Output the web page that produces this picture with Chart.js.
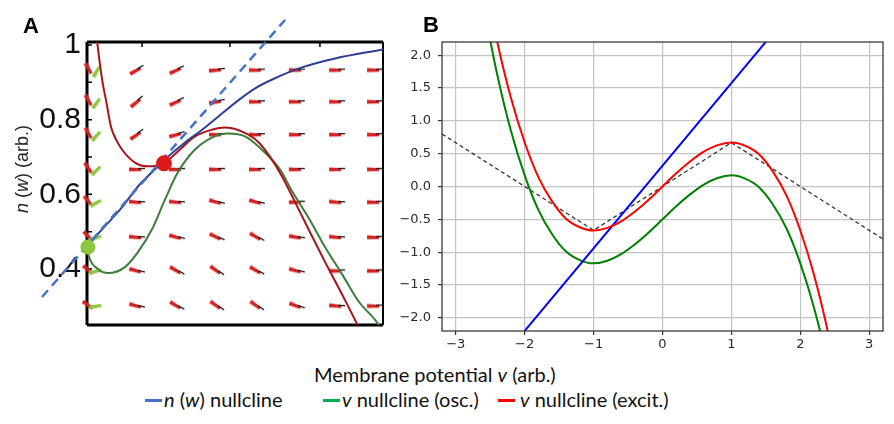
<!DOCTYPE html>
<html lang="en">
<head>
<meta charset="UTF-8">
<title>Nullclines</title>
<script src="https://cdn.jsdelivr.net/npm/chart.js"></script>
<style>
  body { margin: 0; background: #fff; }
  #wrap { position: relative; width: 894px; height: 424px; overflow: hidden; background: #fff; }
  canvas { position: absolute; }
  .lbl { position: absolute; white-space: nowrap; }
  .panel { font-family: "Liberation Sans", Arial, sans-serif; font-weight: bold; font-size: 22px; line-height: 22px; color: #000; }
  .cal { font-family: Lato, "Open Sans", sans-serif; font-size: 20px; color: #111; }
  .dash { display: inline-block; width: 17px; height: 3px; vertical-align: middle; margin-right: 2px; position: relative; top: -1px; }
</style>
</head>
<body>
<div id="wrap">
  <canvas id="chartA" width="400" height="340" style="left:0;top:0"></canvas>
  <canvas id="chartB" width="504" height="360" style="left:390px;top:0"></canvas>

  <div class="lbl panel" style="left:23px;top:15px">A</div>
  <div class="lbl panel" style="left:423px;top:14px">B</div>
  <div class="lbl" style="left:22px;top:169px;transform:translate(-50%,-50%) rotate(-90deg);font-family:'Liberation Sans',Arial,sans-serif;font-size:18px;color:#222"><i>n</i> (<i>w</i>) (arb.)</div>
  <div class="lbl cal" style="left:314px;top:374px;transform:translateY(-50%)">Membrane potential <i>v</i> (arb.)</div>
  <div class="lbl cal" style="left:145px;top:399px;transform:translateY(-50%)"><span class="dash" style="background:#4472c4"></span><i>n</i> (<i>w</i>) nullcline</div>
  <div class="lbl cal" style="left:323px;top:399px;transform:translateY(-50%)"><span class="dash" style="background:#00b050"></span><i>v</i> nullcline (osc.)</div>
  <div class="lbl cal" style="left:498px;top:399px;transform:translateY(-50%)"><span class="dash" style="background:#ff0000;margin-right:5px"></span><i>v</i> nullcline (excit.)</div>
</div>

<script>
// ---- panel A data (phase plane, arbitrary x units 0..1) ----
const yTicksA = [0.4, 0.6, 0.8, 1.0];
const yInnerTicksA = [0.3, 0.4, 0.5, 0.6, 0.7, 0.8, 0.9, 1.0];
const xTopTicksA = [0.186, 0.483, 0.787];

const redAx = [0.031, 0.044, 0.054, 0.064, 0.081, 0.098, 0.118, 0.162, 0.206, 0.260, 0.307, 0.365, 0.422, 0.466, 0.524, 0.578, 0.618, 0.659, 0.703, 0.753, 0.804, 0.861, 0.912, 0.925];
const redAy = [1.030, 0.947, 0.893, 0.853, 0.781, 0.747, 0.720, 0.685, 0.675, 0.683, 0.715, 0.755, 0.773, 0.779, 0.768, 0.741, 0.701, 0.648, 0.579, 0.499, 0.419, 0.333, 0.253, 0.230];

const greenAx = [0.000, 0.007, 0.037, 0.071, 0.128, 0.172, 0.220, 0.264, 0.307, 0.365, 0.422, 0.476, 0.534, 0.601, 0.652, 0.693, 0.747, 0.804, 0.861, 0.916, 0.983, 0.995];
const greenAy = [0.459, 0.432, 0.400, 0.389, 0.405, 0.445, 0.507, 0.587, 0.659, 0.720, 0.752, 0.763, 0.755, 0.712, 0.667, 0.608, 0.539, 0.459, 0.387, 0.315, 0.253, 0.235];

const blueAx = [0.000, 0.061, 0.118, 0.172, 0.230, 0.274, 0.331, 0.389, 0.443, 0.510, 0.568, 0.635, 0.726, 0.838, 1.000];
const blueAy = [0.462, 0.515, 0.565, 0.621, 0.667, 0.701, 0.739, 0.773, 0.808, 0.851, 0.884, 0.911, 0.940, 0.964, 0.988];

const dashAx = [-0.152, 0.669];
const dashAy = [0.325, 1.067];

const redDot = { x: 0.260, y: 0.683 };
const greenDot = { x: 0.003, y: 0.459 };

// vector field grid
const arrowRows = [0.933, 0.848, 0.760, 0.667, 0.579, 0.485, 0.395, 0.301];
const arrowCols = [0.169, 0.304, 0.439, 0.574, 0.709, 0.845, 0.973];
const arrowAngles = [
  [-30, -25, -5, 0, 0, 0, 0],
  [-40, -25, -10, 0, 0, 0, 0],
  [-35, -15, 0, 0, 0, 0, 0],
  [0, 0, 0, 0, 0, 0, 0],
  [5, 5, 15, 15, 0, 5, 0],
  [5, 15, 25, 30, 10, 5, 0],
  [15, 30, 35, 30, 15, 0, 0],
  [15, 30, 35, 35, 20, 5, 0]
];
const leftRedX = 0.008;
const leftGreenX = 0.035;
const leftRedAngles = [60, 60, 60, 55, 50, 45, 40, 35];
const leftGreenAngles = [-60, -55, -50, -45, -30, -20, -15, -10];

// ---- panel B data ----
const vB = [-2.6, -2.4, -2.2, -2.0, -1.8, -1.6, -1.4, -1.2, -1.0, -0.8, -0.6, -0.4, -0.2, 0.0, 0.2, 0.4, 0.6, 0.8, 1.0, 1.2, 1.4, 1.6, 1.8, 2.0, 2.2, 2.4, 2.6];
const excitB = [3.26, 2.21, 1.35, 0.67, 0.14, -0.23, -0.49, -0.62, -0.67, -0.63, -0.53, -0.38, -0.20, 0.00, 0.20, 0.38, 0.53, 0.63, 0.67, 0.62, 0.49, 0.23, -0.14, -0.67, -1.35, -2.21, -3.26];
const oscB = [2.76, 1.71, 0.85, 0.17, -0.36, -0.73, -0.99, -1.12, -1.17, -1.13, -1.03, -0.88, -0.70, -0.50, -0.30, -0.12, 0.03, 0.13, 0.17, 0.12, -0.01, -0.27, -0.64, -1.17, -1.85, -2.71, -3.76];
const blueBv = [-2.2, 1.8];
const blueBw = [-2.45, 2.58];
const dashBv = [-3.2, -1.0, 1.0, 3.2];
const dashBw = [0.80, -0.667, 0.667, -0.80];
const xTicksB = [-3, -2, -1, 0, 1, 2, 3];
const yTicksB = [-2.0, -1.5, -1.0, -0.5, 0.0, 0.5, 1.0, 1.5, 2.0];

const pts = (xs, ys) => xs.map((x, i) => ({ x: x, y: ys[i] }));
const minus = s => s.replace('-', '\u2212');

function arrowSprite(body, tip) {
  const c = document.createElement('canvas');
  c.width = 18; c.height = 7;
  const g = c.getContext('2d');
  g.fillStyle = body;
  g.beginPath();
  g.moveTo(1, 1.6); g.lineTo(13, 2.2); g.lineTo(13, 5.2); g.lineTo(1, 5.4);
  g.closePath(); g.fill();
  if (tip) {
    g.strokeStyle = tip; g.lineWidth = 1.3;
    g.beginPath(); g.moveTo(10, 2.6); g.lineTo(17, 2.6); g.stroke();
  }
  return c;
}
const redArrow = arrowSprite('#d42222', '#111');
const redMark = arrowSprite('#d42222', null);
const greenMark = arrowSprite('#8cc63f', null);

const fieldPts = [], fieldAng = [];
arrowRows.forEach((y, r) => arrowCols.forEach((x, c) => {
  fieldPts.push({ x: x, y: y });
  fieldAng.push(arrowAngles[r][c]);
}));

const frameA = {
  id: 'frameA',
  beforeDatasetsDraw(chart) {
    const { ctx, chartArea: a, scales } = chart;
    ctx.save();
    ctx.strokeStyle = '#000';
    ctx.lineWidth = 3;
    ctx.beginPath();
    ctx.moveTo(a.left, a.top); ctx.lineTo(a.right, a.top);
    ctx.moveTo(a.left, a.top); ctx.lineTo(a.left, a.bottom);
    ctx.moveTo(a.left, a.bottom); ctx.lineTo(a.right, a.bottom);
    ctx.stroke();
    ctx.lineWidth = 2;
    ctx.beginPath(); ctx.moveTo(a.right, a.top); ctx.lineTo(a.right, a.bottom); ctx.stroke();
    ctx.lineWidth = 1.5;
    ctx.beginPath();
    yInnerTicksA.forEach(v => {
      const y = scales.y.getPixelForValue(v);
      ctx.moveTo(a.left, y); ctx.lineTo(a.left + 5, y);
    });
    xTopTicksA.forEach(v => {
      const x = scales.x.getPixelForValue(v);
      ctx.moveTo(x, a.top); ctx.lineTo(x, a.top + 5);
    });
    ctx.stroke();
    ctx.restore();
  }
};

new Chart(document.getElementById('chartA'), {
  type: 'line',
  data: {
    datasets: [
      { data: [redDot], showLine: false, pointRadius: 8, pointBackgroundColor: '#dd1a1a', pointBorderWidth: 0, clip: false },
      { data: [greenDot], showLine: false, pointRadius: 7.5, pointBackgroundColor: '#8cc63f', pointBorderWidth: 0, clip: false },
      { data: pts(dashAx, dashAy), borderColor: '#4472c4', borderWidth: 2.5, borderDash: [9, 6], pointRadius: 0, clip: false },
      { data: pts(blueAx, blueAy), borderColor: '#2f3f94', borderWidth: 2, pointRadius: 0, cubicInterpolationMode: 'monotone' },
      { data: pts(redAx, redAy), borderColor: '#a8141a', borderWidth: 2, pointRadius: 0, cubicInterpolationMode: 'monotone' },
      { data: pts(greenAx, greenAy), borderColor: '#3c7d3c', borderWidth: 2, pointRadius: 0, cubicInterpolationMode: 'monotone' },
      { data: fieldPts, showLine: false, pointStyle: redArrow, pointRotation: c => fieldAng[c.dataIndex] },
      { data: arrowRows.map(y => ({ x: leftGreenX, y: y })), showLine: false, pointStyle: greenMark, pointRotation: c => leftGreenAngles[c.dataIndex], clip: false },
      { data: arrowRows.map(y => ({ x: leftRedX, y: y })), showLine: false, pointStyle: redMark, pointRotation: c => leftRedAngles[c.dataIndex], clip: false }
    ]
  },
  options: {
    responsive: false,
    animation: false,
    layout: { padding: { top: 42, right: 17, left: 0, bottom: 0 } },
    plugins: { legend: { display: false }, tooltip: { enabled: false } },
    scales: {
      x: {
        type: 'linear', min: 0, max: 1,
        ticks: { display: false }, grid: { display: false }, border: { display: false },
        afterFit: s => { s.height = 15; }
      },
      y: {
        type: 'linear', min: 0.25, max: 1.008,
        afterBuildTicks: s => { s.ticks = yTicksA.map(v => ({ value: v })); },
        ticks: {
          padding: 6, color: '#111',
          font: { family: 'Liberation Sans', size: 30, lineHeight: 0.6 },
          callback: v => (v === 1 ? '1' : v.toFixed(1))
        },
        grid: { display: false, drawTicks: false }, border: { display: false },
        afterFit: s => { s.width = 87; }
      }
    }
  },
  plugins: [frameA]
});

const frameB = {
  id: 'frameB',
  afterDatasetsDraw(chart) {
    const { ctx, chartArea: a } = chart;
    ctx.save();
    ctx.strokeStyle = '#3a3a3a';
    ctx.lineWidth = 1.3;
    ctx.strokeRect(a.left, a.top, a.right - a.left, a.bottom - a.top);
    ctx.restore();
  }
};

new Chart(document.getElementById('chartB'), {
  type: 'line',
  data: {
    datasets: [
      { data: pts(vB, excitB), borderColor: '#ff0000', borderWidth: 2, pointRadius: 0, cubicInterpolationMode: 'monotone' },
      { data: pts(blueBv, blueBw), borderColor: '#0000ff', borderWidth: 2, pointRadius: 0 },
      { data: pts(vB, oscB), borderColor: '#008000', borderWidth: 2, pointRadius: 0, cubicInterpolationMode: 'monotone' },
      { data: pts(dashBv, dashBw), borderColor: '#333', borderWidth: 1.3, borderDash: [4, 3], pointRadius: 0 }
    ]
  },
  options: {
    responsive: false,
    animation: false,
    layout: { padding: { top: 42, right: 11, left: 0, bottom: 0 } },
    plugins: { legend: { display: false }, tooltip: { enabled: false } },
    scales: {
      x: {
        type: 'linear', min: -3.2, max: 3.2,
        afterBuildTicks: s => { s.ticks = xTicksB.map(v => ({ value: v })); },
        ticks: { padding: 2, color: '#2a2a2a', font: { family: 'DejaVu Sans', size: 13 }, callback: v => minus(String(v)), maxRotation: 0 },
        grid: { color: '#c4c4c4', lineWidth: 1.2, tickColor: '#333', tickLength: 4 },
        border: { display: false },
        afterFit: s => { s.height = 29; }
      },
      y: {
        type: 'linear', min: -2.2, max: 2.2,
        afterBuildTicks: s => { s.ticks = yTicksB.map(v => ({ value: v })); },
        ticks: { padding: 7, color: '#2a2a2a', font: { family: 'DejaVu Sans', size: 13 }, callback: v => minus(v.toFixed(1)) },
        grid: { color: '#c4c4c4', lineWidth: 1.2, tickColor: '#333', tickLength: 4 },
        border: { display: false },
        afterFit: s => { s.width = 52; }
      }
    }
  },
  plugins: [frameB]
});
</script>
</body>
</html>
